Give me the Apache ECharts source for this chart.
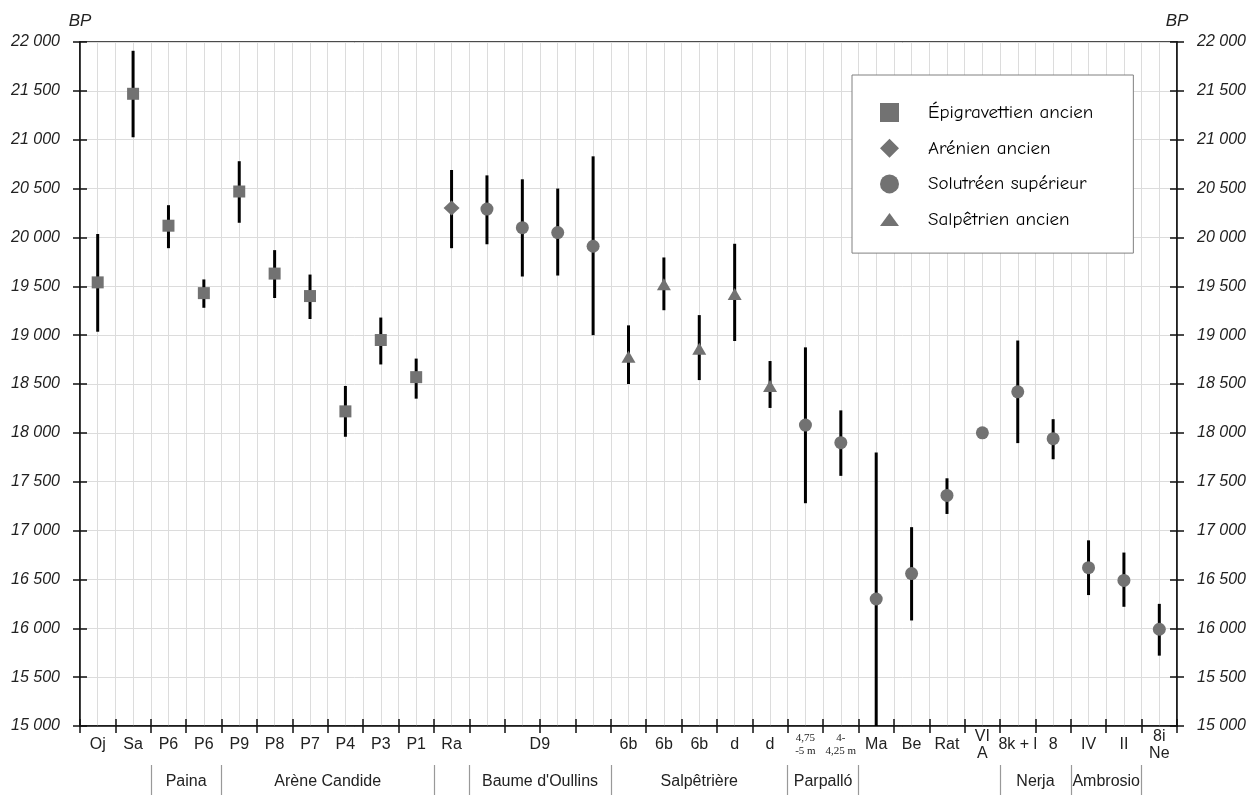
<!DOCTYPE html>
<html>
<head>
<meta charset="utf-8">
<script src="https://cdn.jsdelivr.net/npm/echarts@6/dist/echarts.min.js"></script>
<style>html,body{margin:0;padding:0;background:#fff}#c{width:1250px;height:795px}</style>
</head>
<body>
<div id="c"></div>
<script>
// ---- data ----
const categories = ['Oj','Sa','P6','P6','P9','P8','P7','P4','P3','P1','Ra','','D9','','',
  '6b','6b','6b','d','d','4,75\n-5 m','4-\n4,25 m','Ma','Be','Rat','VI\nA','8k + l','8','IV','II','8i\nNe'];
const centers = [19540,21470,20120,19430,20470,19630,19400,18220,18950,18570,20300,20290,20100,20050,19910,
  18780,19520,18860,19420,18480,18080,17900,16300,16560,17360,18000,18420,17940,16620,16490,15990];
const lows = [19035,21025,19890,19280,20150,19380,19165,17960,18700,18350,19890,19930,19600,19610,19000,
  18500,19255,18540,18940,18255,17280,17560,14800,16080,17170,null,17895,17730,16340,16220,15720];
const highs = [20035,21910,20330,19570,20780,19870,19620,18480,19180,18760,20690,20635,20595,20500,20830,
  19100,19795,19205,19935,18735,18875,18230,17800,17035,17535,null,18945,18140,16900,16775,16250];
// culture of each sample: 0 Épigravettien, 1 Arénien, 2 Solutréen, 3 Salpêtrien
const cultureOf = [0,0,0,0,0,0,0,0,0,0,1,2,2,2,2,3,3,3,3,3,2,2,2,2,2,2,2,2,2,2,2];
const cultures = ['Épigravettien ancien','Arénien ancien','Solutréen supérieur','Salpêtrien ancien'];
const symbols = ['rect','diamond','circle','triangle'];
const legendIcons = ['rect','diamond','circle','path://M0,13L9.5,0L19,13Z'];
const symbolSizes = [12,[16,15],13,[14,12]];
// site groups: [name, first boundary, last boundary]
const groups = [['Paina',2,4],['Arène Candide',4,10],["Baume d'Oullins",11,15],['Salpêtrière',15,20],
  ['Parpalló',20,22],['Nerja',26,28],['Ambrosio',28,30]];
const yMin = 15000, yMax = 22000, yStep = 500;

// ---- derived ----
const N = categories.length;
const halfCats = [];
for (let j = 0; j <= 2 * N; j++) halfCats.push('');
const sepIdx = new Set();
groups.forEach(g => {
  halfCats[g[1] + g[2]] = g[0];
  sepIdx.add(2 * g[1]); sepIdx.add(2 * g[2]);
});
const smallLabels = new Set([20, 21]);
const shiftedLabels = new Set([12]);

const barData = [];
const seriesData = [[],[],[],[]];
for (let i = 0; i < N; i++) {
  if (lows[i] != null) barData.push([i, lows[i], highs[i]]);
  seriesData[cultureOf[i]].push([i, centers[i]]);
}
const fmtY = v => String(v).replace(/\B(?=(\d{3})+(?!\d))/g, ' ');
const GREY = '#727272';
const FONT = '"Liberation Sans", Arial, Helvetica, sans-serif';

const chart = echarts.init(document.getElementById('c'), null, {renderer: 'canvas'});
const yCommon = {
  type: 'value', min: yMin, max: yMax, interval: yStep
};
chart.setOption({
  animation: false,
  backgroundColor: '#fff',
  grid: {left: 80, right: 73, top: 42, bottom: 69, containLabel: false, outerBoundsMode: 'none',
    show: true, borderColor: '#111', borderWidth: 1.5, backgroundColor: 'transparent'},
  legend: {
    orient: 'vertical', left: 852, top: 75,
    padding: [28, 40, 24, 28], itemGap: 16.7, itemWidth: 19, itemHeight: 19,
    backgroundColor: '#fff', borderColor: '#808080', borderWidth: 1,
    selectedMode: false,
    textStyle: {fontFamily: '"Comic Sans MS", "Comic Neue", "Noto Sans", sans-serif', fontSize: 19,
      color: '#000', padding: [0, 0, 0, 24]},
    data: cultures.map((c, k) => ({name: c, icon: legendIcons[k]}))
  },
  xAxis: [
    {
      type: 'category', data: categories, boundaryGap: true, position: 'bottom',
      axisLine: {onZero: false, lineStyle: {color: '#111', width: 1.5}},
      axisTick: {show: true, interval: 0, length: 7, lineStyle: {color: '#111', width: 1.5}},
      axisLabel: {
        interval: 0, margin: 19, verticalAlign: 'middle', color: '#222',
        fontFamily: FONT, fontSize: 16, lineHeight: 17,
        formatter: (v, i) => {
          if (smallLabels.has(i)) return v.split('\n').map(s => '{s|' + s + '}').join('\n');
          if (shiftedLabels.has(i)) return '{sh|' + v + '}';
          return v;
        },
        rich: {
          s: {fontFamily: '"Liberation Serif", "DejaVu Serif", serif', fontSize: 11, lineHeight: 13, color: '#222'},
          sh: {fontFamily: FONT, fontSize: 16, padding: [0, 0, 0, 35], color: '#222'}
        }
      },
      splitLine: {show: false}
    },
    {
      type: 'category', data: categories, boundaryGap: true, position: 'bottom',
      axisLine: {show: false, onZero: false},
      axisTick: {show: true, inside: true, interval: 0, length: 7, lineStyle: {color: '#111', width: 1.5}},
      axisLabel: {show: false}, splitLine: {show: false}
    },
    {
      type: 'category', data: halfCats, boundaryGap: false, position: 'bottom', offset: 39,
      axisLine: {show: false, onZero: false},
      axisTick: {show: true, length: 31, interval: (idx) => sepIdx.has(idx),
        lineStyle: {color: '#999', width: 1.2}},
      axisLabel: {interval: 0, margin: 17, verticalAlign: 'middle', color: '#222',
        fontFamily: FONT, fontSize: 16},
      splitLine: {show: true, interval: 0, lineStyle: {color: '#dcdcdc', width: 1}}
    }
  ],
  yAxis: [
    Object.assign({}, yCommon, {
      position: 'left', name: 'BP', nameLocation: 'end', nameGap: 12,
      nameTextStyle: {fontFamily: FONT, fontStyle: 'italic', fontSize: 17, color: '#222', align: 'center'},
      axisLine: {show: true, onZero: false, lineStyle: {color: '#111', width: 1.5}},
      axisTick: {show: true, length: 7, lineStyle: {color: '#111', width: 1.5}},
      axisLabel: {margin: 20, formatter: fmtY, fontFamily: FONT, fontStyle: 'italic', fontSize: 16, color: '#222'},
      splitLine: {show: true, lineStyle: {color: '#dcdcdc', width: 1}}
    }),
    Object.assign({}, yCommon, {
      position: 'right', name: 'BP', nameLocation: 'end', nameGap: 12,
      nameTextStyle: {fontFamily: FONT, fontStyle: 'italic', fontSize: 17, color: '#222', align: 'center'},
      axisLine: {show: true, onZero: false, lineStyle: {color: '#111', width: 1.5}},
      axisTick: {show: true, length: 7, lineStyle: {color: '#111', width: 1.5}},
      axisLabel: {margin: 20, formatter: fmtY, fontFamily: FONT, fontStyle: 'italic', fontSize: 16, color: '#222'},
      splitLine: {show: false}
    }),
    Object.assign({}, yCommon, {
      position: 'left', axisLine: {show: false},
      axisTick: {show: true, inside: true, length: 7, lineStyle: {color: '#111', width: 1.5}},
      axisLabel: {show: false}, splitLine: {show: false}
    }),
    Object.assign({}, yCommon, {
      position: 'right', axisLine: {show: false},
      axisTick: {show: true, inside: true, length: 7, lineStyle: {color: '#111', width: 1.5}},
      axisLabel: {show: false}, splitLine: {show: false}
    })
  ],
  series: [
    {
      type: 'custom', name: 'range', xAxisIndex: 0, yAxisIndex: 0, z: 2, clip: true,
      data: barData,
      renderItem: (params, api) => {
        const x = api.value(0);
        const lo = api.coord([x, Math.max(api.value(1), yMin)]);
        const hi = api.coord([x, Math.min(api.value(2), yMax)]);
        return {type: 'line', shape: {x1: lo[0], y1: lo[1], x2: hi[0], y2: hi[1]},
          style: {stroke: '#000', lineWidth: 3}};
      }
    }
  ].concat(cultures.map((c, k) => ({
    type: 'scatter', name: c, xAxisIndex: 0, yAxisIndex: 0, z: 3,
    symbol: symbols[k], symbolSize: symbolSizes[k],
    itemStyle: {color: GREY, opacity: 1},
    data: seriesData[k]
  })))
});
</script>
</body>
</html>
